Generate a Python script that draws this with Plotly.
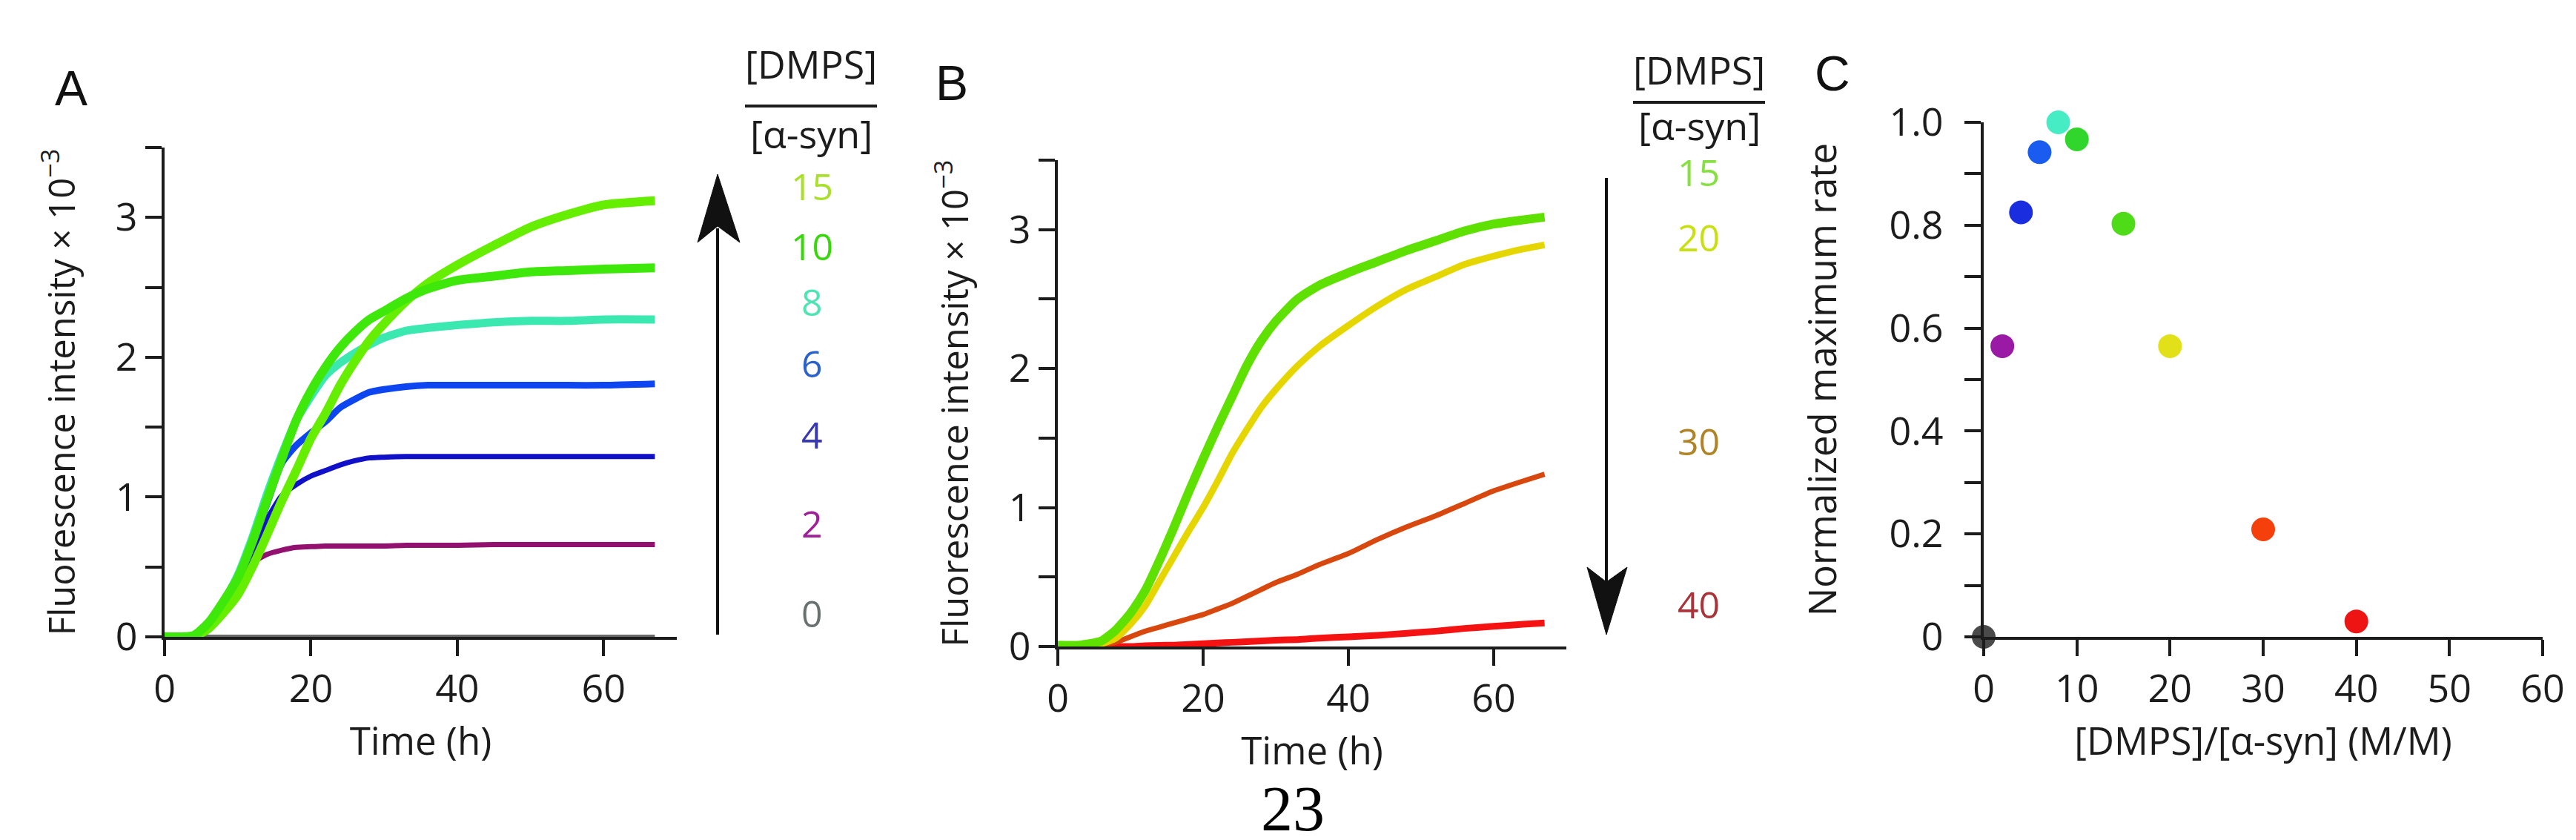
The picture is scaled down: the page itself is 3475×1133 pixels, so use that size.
import plotly.graph_objects as go

W, H = 3475, 1133

# ---------------- Panel A data ----------------
time_a = [0, 2, 4, 6, 8, 10, 12, 14, 16, 18, 20, 22, 24, 26, 28, 30, 33, 36, 40, 45, 50, 55, 60, 67]
a_r0 = [0, 0, 0, 0, 0, 0, 0, 0, 0, 0, 0, 0, 0, 0, 0, 0, 0, 0, 0, 0, 0, 0, 0, 0]
a_r2 = [0, 0, 0.01, 0.08, 0.22, 0.41, 0.53, 0.59, 0.62, 0.64, 0.645, 0.65, 0.65, 0.65, 0.65, 0.65, 0.655, 0.655, 0.655, 0.66, 0.66, 0.66, 0.66, 0.66]
a_r4 = [0, 0, 0.01, 0.08, 0.22, 0.41, 0.60, 0.84, 1.01, 1.09, 1.15, 1.19, 1.23, 1.26, 1.28, 1.285, 1.29, 1.29, 1.29, 1.29, 1.29, 1.29, 1.29, 1.29]
a_r6 = [0, 0, 0.01, 0.09, 0.23, 0.42, 0.66, 0.95, 1.24, 1.37, 1.46, 1.54, 1.64, 1.70, 1.75, 1.77, 1.79, 1.80, 1.80, 1.80, 1.80, 1.80, 1.80, 1.81]
a_r8 = [0, 0, 0.01, 0.10, 0.25, 0.44, 0.71, 1.02, 1.30, 1.55, 1.72, 1.87, 1.96, 2.03, 2.09, 2.14, 2.19, 2.21, 2.23, 2.25, 2.26, 2.26, 2.27, 2.27]
a_r10 = [0, 0, 0.01, 0.10, 0.25, 0.42, 0.68, 0.98, 1.27, 1.55, 1.76, 1.93, 2.07, 2.18, 2.27, 2.33, 2.42, 2.49, 2.55, 2.58, 2.61, 2.62, 2.63, 2.64]
a_r15 = [0, 0, 0, 0.06, 0.17, 0.30, 0.50, 0.73, 0.97, 1.19, 1.42, 1.60, 1.80, 1.97, 2.12, 2.24, 2.40, 2.53, 2.66, 2.80, 2.93, 3.02, 3.09, 3.12]
a_labels = ["15", "10", "8", "6", "4", "2", "0"]

# ---------------- Panel B data ----------------
time_b = [0, 3, 6, 8, 10, 12, 14, 16, 18, 20, 22, 24, 26, 28, 30, 33, 36, 40, 44, 48, 52, 56, 60, 64, 67]
b_r15 = [0.01, 0.01, 0.04, 0.12, 0.24, 0.40, 0.62, 0.86, 1.11, 1.35, 1.58, 1.80, 2.02, 2.20, 2.34, 2.50, 2.60, 2.69, 2.77, 2.85, 2.92, 2.99, 3.04, 3.07, 3.09]
b_r20 = [0.01, 0.01, 0.02, 0.06, 0.16, 0.29, 0.47, 0.65, 0.83, 1.00, 1.19, 1.39, 1.56, 1.72, 1.85, 2.02, 2.16, 2.31, 2.45, 2.57, 2.66, 2.75, 2.81, 2.86, 2.89]
b_r30 = [0, 0, 0.01, 0.03, 0.07, 0.11, 0.14, 0.17, 0.20, 0.23, 0.27, 0.31, 0.36, 0.41, 0.46, 0.52, 0.59, 0.67, 0.77, 0.86, 0.94, 1.03, 1.12, 1.19, 1.24]
b_r40 = [0, 0, 0, 0, 0, 0.005, 0.008, 0.01, 0.015, 0.02, 0.025, 0.03, 0.035, 0.04, 0.045, 0.05, 0.06, 0.07, 0.08, 0.095, 0.11, 0.13, 0.145, 0.16, 0.17]
b_labels = ["15", "20", "30", "40"]

# ---------------- Panel C data ----------------
c_ratio = [0, 2, 4, 6, 8, 10, 15, 20, 30, 40]
c_rate = [0, 0.565, 0.825, 0.942, 1.0, 0.967, 0.803, 0.565, 0.209, 0.03]
c_yticks = [0, 0.2, 0.4, 0.6, 0.8, 1.0]
c_yticktext = ["0", "0.2", "0.4", "0.6", "0.8", "1.0"]

# ---------------- styles ----------------
FONT = "Open Sans"
INK = "#1c1c1c"
col_a = {"0": "#6a6a6a", "2": "#92106e", "4": "#1010c8", "6": "#0d45f0", "8": "#3ae8b0", "10": "#3ee80a", "15": "#66ee00"}
lab_col_a = {"15": "#a8e02a", "10": "#36d80a", "8": "#4ee4b4", "6": "#2a62cc", "4": "#3838b0", "2": "#a0209a", "0": "#687070"}
col_b = {"15": "#5ee000", "20": "#e6d600", "30": "#d8480e", "40": "#f41212"}
lab_col_b = {"15": "#86e040", "20": "#c8e010", "30": "#b08426", "40": "#a8343a"}
c_colors = ["#4a4a4a", "#9a1aa6", "#1a2ee0", "#1a5cf0", "#46ecc4", "#30d62c", "#4edc18", "#e2e018", "#f6400c", "#ee1414"]


def px(x):
    return x / W


def py(y):
    return 1 - y / H


fig = go.Figure()

# Panel A traces
for name, vals, width in [("0", a_r0, 6), ("2", a_r2, 7), ("4", a_r4, 7), ("6", a_r6, 9),
                          ("8", a_r8, 11), ("15", a_r15, 12), ("10", a_r10, 12)]:
    fig.add_trace(go.Scatter(x=time_a, y=vals, mode="lines", line=dict(color=col_a[name], width=width, shape="spline", smoothing=0.6),
                             xaxis="x", yaxis="y", showlegend=False, cliponaxis=False))

# Panel B traces
for name, vals, width in [("40", b_r40, 9), ("30", b_r30, 7), ("20", b_r20, 9), ("15", b_r15, 12)]:
    fig.add_trace(go.Scatter(x=time_b, y=vals, mode="lines", line=dict(color=col_b[name], width=width, shape="spline", smoothing=0.6),
                             xaxis="x2", yaxis="y2", showlegend=False, cliponaxis=False))

# Panel C points
fig.add_trace(go.Scatter(x=c_ratio, y=c_rate, mode="markers",
                         marker=dict(color=c_colors, size=32, line=dict(width=0)),
                         xaxis="x3", yaxis="y3", showlegend=False, cliponaxis=False))

tickfont = dict(family=FONT, size=52, color=INK)
titlefont = dict(family=FONT, size=51, color=INK)
common = dict(showline=True, linewidth=4, linecolor=INK, ticks="outside", ticklen=22, tickwidth=4, tickcolor=INK,
              showgrid=False, zeroline=False, tickfont=tickfont, automargin=False)

fig.update_layout(
    width=W, height=H, margin=dict(l=0, r=0, t=0, b=0),
    paper_bgcolor="white", plot_bgcolor="white",
    xaxis=dict(domain=[px(214), px(905)], range=[0, 70], tickvals=[0, 20, 40, 60], anchor="y",
               title=dict(text="Time (h)", font=titlefont, standoff=22), **common),
    yaxis=dict(domain=[py(851), py(191)], range=[0, 3.5], tickvals=[0, 1, 2, 3], anchor="x",
               minor=dict(tickvals=[0.5, 1.5, 2.5, 3.5], ticks="outside", ticklen=22, tickwidth=4, tickcolor=INK),
               title=dict(text="Fluorescence intensity × 10<sup>−3</sup>", font=dict(family=FONT, size=49, color=INK), standoff=40), **common),
    xaxis2=dict(domain=[px(1419), px(2105)], range=[0, 70], tickvals=[0, 20, 40, 60], anchor="y2",
                title=dict(text="Time (h)", font=titlefont, standoff=22), **common),
    yaxis2=dict(domain=[py(864), py(208)], range=[0, 3.5], tickvals=[0, 1, 2, 3], anchor="x2",
                minor=dict(tickvals=[0.5, 1.5, 2.5, 3.5], ticks="outside", ticklen=22, tickwidth=4, tickcolor=INK),
                title=dict(text="Fluorescence intensity × 10<sup>−3</sup>", font=dict(family=FONT, size=49, color=INK), standoff=40), **common),
    xaxis3=dict(domain=[px(2668), px(3422)], range=[0, 60], tickvals=[0, 10, 20, 30, 40, 50, 60], anchor="y3",
                title=dict(text="[DMPS]/[α-syn] (M/M)", font=titlefont, standoff=22), **common),
    yaxis3=dict(domain=[py(851), py(157)], range=[0, 1.0], tickvals=c_yticks, ticktext=c_yticktext, anchor="x3",
                ticklabelstandoff=18,
                minor=dict(tickvals=[0.1, 0.3, 0.5, 0.7, 0.9], ticks="outside", ticklen=22, tickwidth=4, tickcolor=INK),
                title=dict(text="Normalized maximum rate", font=titlefont, standoff=56), **common),
)

ann = []
shapes = []


def text(x, y, t, size=50, color=INK, family=FONT, lift=10):
    ann.append(dict(x=px(x), y=py(y - lift), xref="paper", yref="paper", text=t, showarrow=False,
                    xanchor="center", yanchor="middle", font=dict(family=family, size=size, color=color)))


# panel letters
text(88, 124, "A", size=66, family="Liberation Sans", color="#111", lift=13)
text(1276, 117, "B", size=66, family="Liberation Sans", color="#111", lift=13)
text(2464, 104, "C", size=66, family="Liberation Sans", color="#111", lift=13)

# fraction labels
for cx, ytop, ybar, ybot in [(1086, 88, 135, 178), (2284, 96, 130, 166)]:
    text(cx, ytop, "[DMPS]", size=52)
    text(cx, ybot, "[α-syn]", size=52, lift=6)
    shapes.append(dict(type="line", xref="paper", yref="paper", x0=px(cx - 89), x1=px(cx + 89),
                       y0=py(ybar), y1=py(ybar), line=dict(color=INK, width=4)))

# panel A ratio labels
for lab, yy in zip(a_labels, [253, 334, 409, 492, 588, 708, 829]):
    text(1087, yy, lab, size=50, color=lab_col_a[lab])
# panel B ratio labels
for lab, yy in zip(b_labels, [234, 322, 597, 817]):
    text(2283, yy, lab, size=50, color=lab_col_b[lab])

# arrows
shapes.append(dict(type="line", xref="paper", yref="paper", x0=px(960), x1=px(960), y0=py(848), y1=py(300),
                   line=dict(color="#111", width=4)))
shapes.append(dict(type="path", xref="paper", yref="paper",
                   path=f"M {px(960)},{py(227)} L {px(990)},{py(319)} L {px(960)},{py(297)} L {px(933)},{py(319)} Z",
                   fillcolor="#111", line=dict(color="#111", width=1)))
shapes.append(dict(type="line", xref="paper", yref="paper", x0=px(2159), x1=px(2159), y0=py(232), y1=py(780),
                   line=dict(color="#111", width=4)))
shapes.append(dict(type="path", xref="paper", yref="paper",
                   path=f"M {px(2159)},{py(848)} L {px(2187)},{py(757)} L {px(2159)},{py(777)} L {px(2133)},{py(757)} Z",
                   fillcolor="#111", line=dict(color="#111", width=1)))

# page number (kept fully inside the canvas)
ann.append(dict(x=px(1736), y=0, xref="paper", yref="paper", text="23", showarrow=False,
                xanchor="center", yanchor="bottom", font=dict(family="Liberation Serif", size=86, color="#000")))

fig.update_layout(annotations=ann, shapes=shapes)
fig.write_html("out.html")
